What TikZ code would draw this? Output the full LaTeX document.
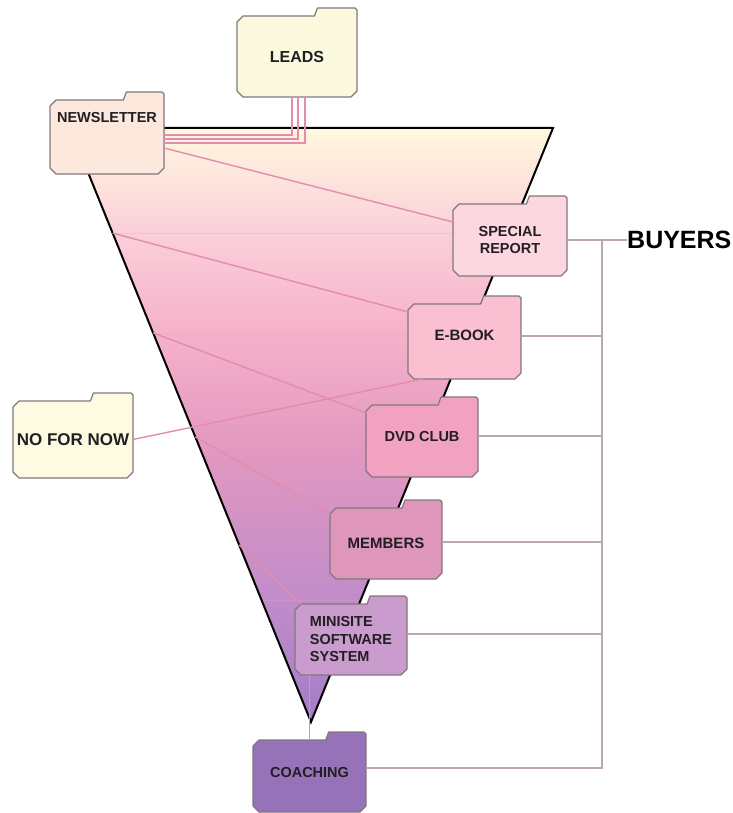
\documentclass[tikz,border=0pt]{standalone}
\usepackage{fontspec}
\setmainfont{Liberation Sans}
\usetikzlibrary{calc}

\definecolor{textgray}{RGB}{35,30,35}
\definecolor{edgegray}{RGB}{130,118,124}
\definecolor{linkpink}{RGB}{228,140,174}
\definecolor{busgray}{RGB}{186,168,174}
\definecolor{bandpink}{RGB}{232,160,190}
\definecolor{leadsfill}{RGB}{252,250,222}
\definecolor{newsfill}{RGB}{253,232,222}
\definecolor{specialfill}{RGB}{253,215,224}
\definecolor{ebookfill}{RGB}{250,192,210}
\definecolor{nofill}{RGB}{253,252,226}
\definecolor{dvdfill}{RGB}{240,162,192}
\definecolor{membersfill}{RGB}{222,150,186}
\definecolor{minifill}{RGB}{202,155,205}
\definecolor{coachfill}{RGB}{150,115,185}
\definecolor{funnelA}{RGB}{255,248,222}
\definecolor{funnelB}{RGB}{251,208,218}
\definecolor{funnelC}{RGB}{246,178,202}
\definecolor{funnelD}{RGB}{226,152,192}
\definecolor{funnelE}{RGB}{192,140,202}
\definecolor{funnelF}{RGB}{162,125,200}

\pgfdeclareverticalshading{funnel}{100bp}{color(0bp)=(funnelF); color(25bp)=(funnelF); color(35.3bp)=(funnelE); color(47.9bp)=(funnelD); color(58bp)=(funnelC); color(66.4bp)=(funnelB); color(75bp)=(funnelA); color(100bp)=(funnelA)}

\tikzset{
	folderline/.style={draw=edgegray, line width=1.2pt, line join=round},
	folderbody/.style={inner sep=0pt, outer sep=0pt},
	foldertext/.style={text=textgray, font=\bfseries\fontsize{14.5}{17.5}\selectfont, align=center, inner sep=0pt},
	link/.style={draw=linkpink, line width=1.4pt},
	bus/.style={draw=busgray, line width=2pt},
	band/.style={draw=bandpink, line width=0.8pt, opacity=0.3},
	funneledge/.style={draw=black, line width=2pt}
}

\newcommand{\folder}[8][]{%
	\pgfmathsetmacro{\foldw}{#5-#3}%
	\pgfmathsetmacro{\foldh}{#6-#4-8}%
	\draw[folderline, fill=#7] (#3,#4+14) -- (#3+6,#4+8) -- (#5-0.33*\foldw-3,#4+8) -- (#5-0.33*\foldw,#4) -- (#5-2,#4) -- (#5,#4+2) -- (#5,#6-6) -- (#5-6,#6) -- (#3+6,#6) -- (#3,#6-6) -- cycle;
	\node[folderbody, minimum width=\foldw pt, minimum height=\foldh pt] (#2) at ({(#3+#5)/2},{(#4+8+#6)/2}) {};
	\node[foldertext, #1] (#2-text) at (#2.center) {#8};
}

\begin{document}
\begin{tikzpicture}[x=1pt, y=-1pt]
	\useasboundingbox (0,0) rectangle (732,813);
	\coordinate (tl) at (70,128);
	\coordinate (tr) at (553,128);
	\coordinate (apex) at (311,722);
	\shade[shading=funnel] (tl) -- (tr) -- (apex) -- cycle;
	\draw[band] ($(tl)!0.177!(apex)$) -- ($(tr)!0.177!(apex)$);
	\draw[band] ($(tl)!0.345!(apex)$) -- ($(tr)!0.345!(apex)$);
	\draw[band] ($(tl)!0.520!(apex)$) -- ($(tr)!0.520!(apex)$);
	\draw[band] ($(tl)!0.702!(apex)$) -- ($(tr)!0.702!(apex)$);
	\draw[band] ($(tl)!0.795!(apex)$) -- ($(tr)!0.795!(apex)$);
	\draw[funneledge] (tl) -- (tr) -- (apex) -- cycle;

	\folder[font=\bfseries\fontsize{16}{19}\selectfont]{leads}{237}{8}{357}{97}{leadsfill}{LEADS}
	\folder[yshift=19pt]{news}{50}{92}{164}{174}{newsfill}{NEWSLETTER}
	\folder{special}{453}{196}{567}{276}{specialfill}{SPECIAL\\REPORT}
	\folder[yshift=6pt, font=\bfseries\fontsize{15}{18}\selectfont]{ebook}{408}{296}{521}{379}{ebookfill}{E-BOOK}
	\folder[font=\bfseries\fontsize{17}{20}\selectfont]{nofornow}{13}{393}{133}{478}{nofill}{NO FOR NOW}
	\folder[yshift=4pt]{dvd}{366}{397}{478}{477}{dvdfill}{DVD CLUB}
	\folder[font=\bfseries\fontsize{15}{18}\selectfont]{members}{330}{500}{442}{579}{membersfill}{MEMBERS}
	\folder[align=left]{minisite}{295}{596}{407}{675}{minifill}{MINISITE\\SOFTWARE\\SYSTEM}
	\folder[yshift=4pt]{coaching}{253}{732}{366}{812}{coachfill}{COACHING}

	\coordinate (e1) at ($(tl)!0.177!(apex)$);
	\coordinate (e2) at ($(tl)!0.345!(apex)$);
	\coordinate (e3) at ($(tl)!0.520!(apex)$);
	\coordinate (e4) at ($(tl)!0.702!(apex)$);
	\draw[link] ([yshift=2pt]news.east) -| ([xshift=-5pt]leads.south);
	\draw[link] ([yshift=-2pt]news.east) -| ([xshift=1pt]leads.south);
	\draw[link] ([yshift=-6pt]news.east) -| ([xshift=8pt]leads.south);
	\draw[link] ([yshift=-11pt]news.east) -- ([yshift=18pt]special.west);
	\draw[link] (e1) -- ([yshift=-8pt]ebook.north west);
	\draw[link] (e2) -- ([yshift=-8pt]dvd.north west);
	\draw[link] (e3) -- ([yshift=-6pt]members.north west);
	\draw[link] (e4) -- ([xshift=6pt]minisite.north west);
	\draw[link] (coaching.north |- minisite.south) -- (coaching.north);
	\draw[link] (nofornow.east) -- ([xshift=15pt]ebook.south west);

	\node[text=black, font=\bfseries\fontsize{25}{30}\selectfont, anchor=west, inner sep=0pt] (buyers) at (627,240) {BUYERS};
	\coordinate (bus) at (602,240);
	\draw[bus] (special.east) -- (buyers.west);
	\draw[bus] ([yshift=6pt]ebook.east) -| (bus);
	\draw[bus] ([yshift=5pt]dvd.east) -| (bus);
	\draw[bus] ([yshift=2pt]members.east) -| (bus);
	\draw[bus] ([yshift=6pt]minisite.east) -| (bus);
	\draw[bus] ([yshift=8pt]coaching.east) -| (bus);
\end{tikzpicture}
\end{document}
